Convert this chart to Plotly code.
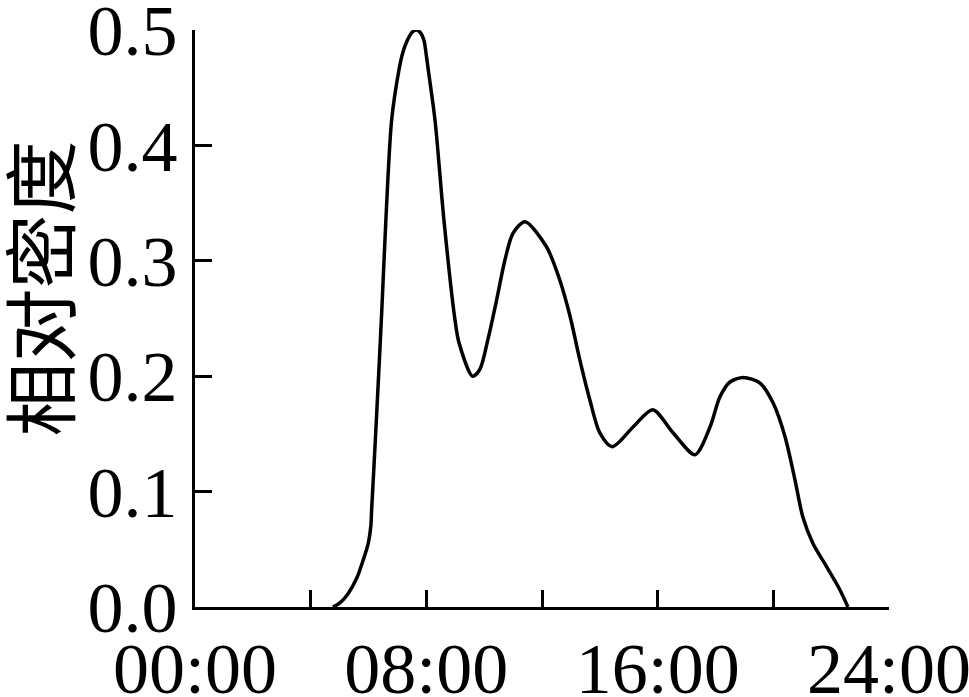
import plotly.graph_objects as go

# time of day (hours) and relative density
hours = [4.77, 5.01, 5.30, 5.61, 5.82, 5.99, 6.08, 6.11, 6.17, 6.29, 6.46, 6.60, 6.80, 7.05,
         7.18, 7.34, 7.50, 7.67, 7.82, 7.92, 7.99, 8.07, 8.30, 8.61, 8.99, 9.13, 9.60, 9.85,
         10.13, 10.43, 10.72, 11.0, 11.41, 12.16, 12.62, 12.97, 13.31, 13.66, 14.0, 14.43,
         15.15, 15.83, 16.53, 17.29, 17.81, 18.15, 18.5, 18.96, 19.54, 19.99, 20.4, 20.75,
         21.02, 21.37, 21.84, 22.3, 22.58]
density = [0.0, 0.0035, 0.0118, 0.026, 0.041, 0.055, 0.070, 0.085, 0.113, 0.171, 0.257,
           0.335, 0.422, 0.465, 0.48, 0.491, 0.498, 0.5, 0.497, 0.491, 0.48, 0.465, 0.422,
           0.335, 0.249, 0.229, 0.2, 0.206, 0.232, 0.266, 0.301, 0.324, 0.334, 0.312, 0.283,
           0.252, 0.214, 0.179, 0.151, 0.139, 0.156, 0.171, 0.151, 0.132, 0.156, 0.182,
           0.195, 0.199, 0.194, 0.177, 0.148, 0.110, 0.078, 0.055, 0.035, 0.015, 0.0]

x_tick_vals = [0, 4, 8, 12, 16, 20, 24]
x_tick_text = ["00:00", "", "08:00", "", "16:00", "", "24:00"]
y_tick_vals = [0.0, 0.1, 0.2, 0.3, 0.4, 0.5]
y_tick_text = ["0.0", "0.1", "0.2", "0.3", "0.4", "0.5"]
y_title = "相对密度"

serif = "Liberation Serif"

fig = go.Figure(go.Scatter(
    x=hours, y=density, mode="lines",
    line=dict(color="black", width=3.5, shape="spline", smoothing=0.8),
    cliponaxis=False, hoverinfo="skip"))

fig.update_layout(
    width=969, height=697,
    margin=dict(l=195, r=80, t=30, b=90, autoexpand=False),
    paper_bgcolor="white", plot_bgcolor="white",
    showlegend=False,
    xaxis=dict(range=[0, 24], tickvals=x_tick_vals, ticktext=x_tick_text,
               ticks="inside", ticklen=17, tickwidth=3, tickcolor="black",
               showline=True, linecolor="black", linewidth=3,
               showgrid=False, zeroline=False, automargin=False,
               tickfont=dict(family=serif, size=72, color="black"),
               ticklabelstandoff=-3, ticklabeloverflow="allow"),
    yaxis=dict(range=[0, 0.5001], tickvals=y_tick_vals, ticktext=y_tick_text,
               ticks="inside", ticklen=17, tickwidth=3, tickcolor="black",
               showline=True, linecolor="black", linewidth=3,
               showgrid=False, zeroline=False, automargin=False,
               tickfont=dict(family=serif, size=72, color="black"),
               ticklabelstandoff=0, ticklabeloverflow="allow"),
    annotations=[dict(text=y_title, xref="paper", yref="paper",
                      x=-0.229, y=0.552, xanchor="center", yanchor="middle",
                      textangle=-90, showarrow=False,
                      font=dict(family="Noto Sans CJK SC", size=74, color="black"))],
)

fig.write_html("out.html", config={"displayModeBar": False},
               post_script="document.body.style.margin='0';document.body.style.padding='0';")
